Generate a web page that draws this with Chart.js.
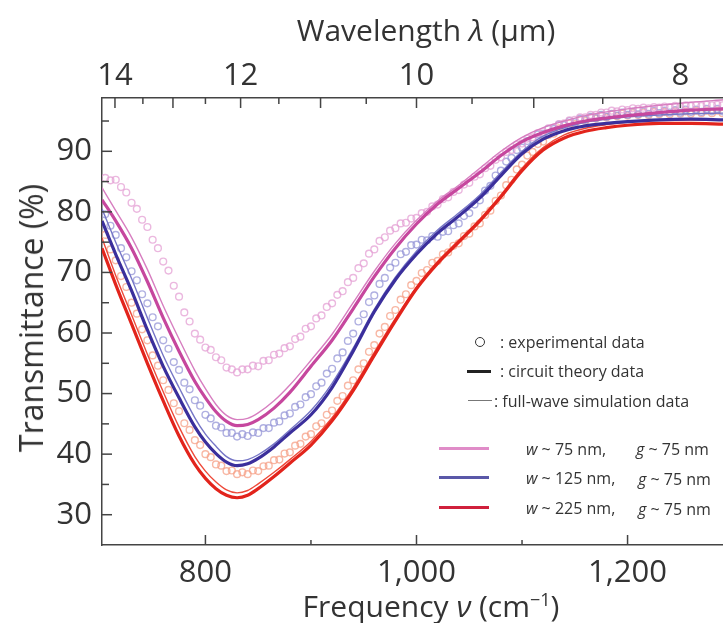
<!DOCTYPE html>
<html>
<head>
<meta charset="utf-8">
<script src="https://cdn.jsdelivr.net/npm/chart.js@4.4.1/dist/chart.umd.min.js"></script>
<style>
  html, body { margin: 0; padding: 0; background: #fff; }
  #wrap { position: relative; width: 723px; height: 623px; overflow: hidden; font-family: "Open Sans", sans-serif; color: #333; }
  #c { position: absolute; left: 0; top: 0; }
  .t { position: absolute; white-space: nowrap; line-height: 1; }
  .ttl { font-size: 30px; transform: translate(-50%, -50%); }
  .lg { font-size: 16px; transform: translateY(-50%); }
  .mk { position: absolute; }
  i { font-style: italic; }
</style>
</head>
<body>
<div id="wrap">
  <canvas id="c" width="729" height="623"></canvas>

  <div class="t ttl" style="left:426px; top:30px;">Wavelength <i>λ</i> (μm)</div>
  <div class="t ttl" style="left:431px; top:605px;">Frequency <i>ν</i> (cm<sup style="font-size:18px;">−1</sup>)</div>
  <div class="t ttl" style="left:31px; top:318px; font-size:32px; transform: translate(-50%, -50%) rotate(-90deg);">Transmittance (%)</div>

  <!-- legend -->
  <div class="mk" style="left:475px; top:337px; width:8px; height:8px; border:1.4px solid #333; border-radius:50%;"></div>
  <div class="t lg" style="left:500px; top:342px;">: experimental data</div>
  <div class="mk" style="left:467px; top:370px; width:24px; height:3px; background:#222;"></div>
  <div class="t lg" style="left:500px; top:371px;">: circuit theory data</div>
  <div class="mk" style="left:468px; top:400px; width:24px; height:1px; background:#777;"></div>
  <div class="t lg" style="left:494px; top:401px;">: full-wave simulation data</div>

  <div class="mk" style="left:439px; top:447px; width:50px; height:3px; background:#e08cc8;"></div>
  <div class="t lg" style="left:526px; top:449px;"><i>w</i> ~ 75 nm,</div>
  <div class="t lg" style="left:636px; top:449px;"><i>g</i> ~ 75 nm</div>
  <div class="mk" style="left:439px; top:476px; width:50px; height:3px; background:#5a58a8;"></div>
  <div class="t lg" style="left:526px; top:478px;"><i>w</i> ~ 125 nm,</div>
  <div class="t lg" style="left:638px; top:479px;"><i>g</i> ~ 75 nm</div>
  <div class="mk" style="left:439px; top:506px; width:50px; height:3px; background:#d0203c;"></div>
  <div class="t lg" style="left:526px; top:508px;"><i>w</i> ~ 225 nm,</div>
  <div class="t lg" style="left:638px; top:509px;"><i>g</i> ~ 75 nm</div>
</div>

<script>
// axis ticks
const freqTicks = [800, 1000, 1200];
const freqMinor = [900, 1100];
const wlTicks = [14, 12, 10, 8];
const wlMid = [13, 11, 9];
const wlMinor = [13.5, 12.5, 11.5, 10.5, 9.5, 8.5];
const tTicks = [30, 40, 50, 60, 70, 80, 90];
const tMinor = [35, 45, 55, 65, 75, 85, 95];

// experimental data (frequency in cm-1, transmittance in %)
const expFreq = [
  705, 710, 715, 720, 725, 730, 735, 740, 745, 750, 755, 760, 765, 770, 775, 780, 785, 790, 795,
  800, 805, 810, 815, 820, 825, 830, 835, 840, 845, 850, 855, 860, 865, 870, 875, 880, 885, 890, 895,
  900, 905, 910, 915, 920, 925, 930, 935, 940, 945, 950, 955, 960, 965, 970, 975, 980, 985, 990, 995,
  1000, 1005, 1010, 1015, 1020, 1025, 1030, 1035, 1040, 1045, 1050, 1055, 1060, 1065, 1070, 1075, 1080, 1085, 1090, 1095,
  1100, 1105, 1110, 1115, 1120, 1125, 1130, 1135, 1140, 1145, 1150, 1155, 1160, 1165, 1170, 1175, 1180, 1185, 1190, 1195,
  1200, 1205, 1210, 1215, 1220, 1225, 1230, 1235, 1240, 1245, 1250, 1255, 1260, 1265, 1270, 1275, 1280, 1285, 1290
];
const pinkExp = [
  85.6, 85.2, 85.3, 84.1, 83.2, 81.5, 80.5, 78.7, 77.5, 75.4, 74.0, 71.8, 70.3, 67.8, 66.0, 63.4, 61.9, 59.9, 58.9,
  57.6, 57.2, 56.0, 55.5, 54.3, 54.0, 53.5, 54.0, 54.0, 54.6, 54.5, 55.4, 55.5, 56.4, 56.6, 57.5, 57.8, 59.0, 59.4, 60.7,
  61.1, 62.4, 62.9, 64.3, 64.9, 66.3, 66.9, 68.4, 69.1, 70.7, 71.5, 73.1, 73.8, 75.2, 75.8, 76.9, 77.3, 78.1, 78.2, 78.9,
  79.0, 79.8, 80.0, 80.9, 81.2, 82.1, 82.4, 83.3, 83.6, 84.5, 84.8, 85.8, 86.2, 87.2, 87.6, 88.6, 89.0, 89.9, 90.2, 91.1,
  91.3, 92.1, 92.3, 93.0, 93.2, 93.8, 93.9, 94.5, 94.6, 95.1, 95.2, 95.6, 95.6, 96.0, 96.0, 96.4, 96.4, 96.7, 96.6, 96.9,
  96.8, 97.1, 97.0, 97.2, 97.1, 97.3, 97.2, 97.4, 97.3, 97.5, 97.4, 97.6, 97.5, 97.6, 97.5, 97.7, 97.6, 97.7, 97.6
];
const blueExp = [
  79.6, 77.7, 76.2, 74.0, 72.5, 70.2, 68.7, 66.4, 64.9, 62.6, 61.1, 58.8, 57.4, 55.2, 53.9, 51.8, 50.7, 48.9, 48.0,
  46.5, 45.9, 44.7, 44.4, 43.5, 43.5, 42.9, 43.3, 43.0, 43.6, 43.5, 44.3, 44.3, 45.2, 45.4, 46.4, 46.7, 47.8, 48.2, 49.4,
  49.9, 51.2, 51.8, 53.3, 54.1, 55.8, 56.8, 58.7, 59.9, 61.9, 63.1, 65.1, 66.2, 68.1, 69.1, 70.8, 71.6, 73.0, 73.4, 74.5,
  74.6, 75.4, 75.3, 76.0, 75.9, 76.7, 76.8, 77.8, 78.1, 79.3, 79.8, 81.2, 81.9, 83.5, 84.3, 86.0, 86.8, 88.3, 88.9, 90.2,
  90.6, 91.7, 91.9, 92.8, 92.9, 93.7, 93.7, 94.4, 94.3, 95.0, 94.8, 95.4, 95.2, 95.7, 95.5, 96.0, 95.7, 96.2, 95.9, 96.4,
  96.0, 96.5, 96.1, 96.6, 96.2, 96.7, 96.3, 96.7, 96.4, 96.8, 96.4, 96.9, 96.5, 96.9, 96.5, 97.0, 96.6, 97.0, 96.6
];
const redExp = [
  76.2, 73.8, 72.0, 69.4, 67.6, 65.0, 63.2, 60.6, 58.8, 56.3, 54.6, 52.2, 50.6, 48.4, 47.1, 45.1, 44.0, 42.3, 41.5,
  40.0, 39.5, 38.3, 38.1, 37.2, 37.3, 36.7, 37.0, 36.7, 37.3, 37.2, 38.0, 38.1, 39.0, 39.1, 40.1, 40.3, 41.4, 41.7, 42.9,
  43.3, 44.6, 45.1, 46.5, 47.2, 48.8, 49.6, 51.3, 52.2, 54.0, 55.0, 56.9, 58.0, 59.9, 61.0, 62.8, 63.8, 65.5, 66.4, 67.9,
  68.6, 69.9, 70.4, 71.6, 71.9, 73.0, 73.3, 74.4, 74.8, 76.0, 76.4, 77.6, 78.1, 79.5, 80.2, 81.8, 82.7, 84.4, 85.3, 87.0,
  87.8, 89.3, 89.9, 91.2, 91.6, 92.7, 92.9, 93.8, 93.8, 94.6, 94.5, 95.2, 95.0, 95.6, 95.4, 95.9, 95.6, 96.1, 95.8, 96.2,
  95.9, 96.3, 96.0, 96.4, 96.0, 96.5, 96.1, 96.5, 96.1, 96.6, 96.2, 96.6, 96.2, 96.7, 96.3, 96.7, 96.3, 96.7, 96.3
];

// circuit theory and full-wave simulation curves
const modelFreq = [702, 715, 730, 745, 760, 775, 790, 800, 810, 820, 830, 840, 850, 865, 880, 900, 920, 940, 960, 980,
  1000, 1020, 1040, 1060, 1080, 1100, 1120, 1140, 1160, 1180, 1200, 1230, 1260, 1291];
const pinkCircuit = [82, 78.5, 74, 68.5, 62.5, 57, 52, 49.3, 47, 45.4, 44.7, 44.9, 45.7, 47.6, 50.2, 54.5, 58.8, 64, 69.3, 74,
  78, 81.3, 83.9, 86.5, 89.3, 91.6, 93.1, 94.2, 95, 95.5, 95.9, 96.4, 96.8, 97];
const pinkSim = [84, 80.2, 75.8, 70.5, 64.5, 59, 53.8, 50.8, 48.2, 46.4, 45.7, 45.9, 46.8, 48.8, 51.4, 55.5, 59.8, 65, 70.2, 74.8,
  78.6, 81.8, 84.4, 87.2, 90, 92.3, 93.9, 95, 95.9, 96.5, 97, 97.6, 98.1, 98.5];
const blueCircuit = [78.5, 73, 67, 60.5, 54.5, 49.3, 44.5, 42, 40.1, 38.7, 38.1, 38.4, 39.3, 41.2, 43.5, 46.5, 51, 57, 63.5, 68.8,
  73, 76.5, 79.3, 82.3, 86, 89.6, 92, 93.4, 94.2, 94.6, 94.9, 95.2, 95.3, 95.2];
const blueSim = [80.5, 75, 69, 62.5, 56.3, 51, 46, 43.3, 41.3, 39.6, 38.9, 39.1, 39.9, 41.7, 44, 47.2, 51.7, 57.5, 63.9, 69.2,
  73.5, 77, 79.8, 82.8, 86.5, 90, 92.5, 93.9, 94.8, 95.3, 95.7, 96, 96.2, 96.3];
const redCircuit = [74, 68, 61.5, 55, 48.8, 43, 38.3, 36, 34.3, 33.2, 32.8, 33.2, 34.3, 36.3, 38.5, 41.5, 45.5, 50.5, 56.3, 62,
  67.3, 71.5, 75, 78.5, 82.5, 86.8, 90.2, 92.2, 93.3, 93.9, 94.3, 94.6, 94.6, 94.5];
const redSim = [75.7, 69.5, 63, 56.5, 50.3, 44.5, 39.6, 37.2, 35.4, 34.1, 33.6, 34, 35.1, 37, 39.1, 42.1, 46, 51, 56.8, 62.4,
  67.6, 71.8, 75.3, 78.8, 82.8, 87.2, 90.6, 92.7, 93.8, 94.4, 94.8, 95.1, 95.2, 95.2];

const pts = (xs, ys) => xs.map((x, i) => ({ x: x, y: ys[i] }));

function expSet(ys, color) {
  return {
    data: pts(expFreq, ys), showLine: false, order: 3,
    pointStyle: 'circle', pointRadius: 3.4, pointBorderWidth: 1.4,
    pointBorderColor: color, pointBackgroundColor: 'rgba(255,255,255,0)'
  };
}
function lineSet(ys, color, width, order) {
  return {
    data: pts(modelFreq, ys), showLine: true, order: order,
    borderColor: color, borderWidth: width, pointRadius: 0,
    cubicInterpolationMode: 'monotone'
  };
}

// inward tick marks on the three drawn axes
const innerTicks = {
  id: 'innerTicks',
  afterDraw(chart) {
    const ctx = chart.ctx, a = chart.chartArea;
    const x = chart.scales.x, x2 = chart.scales.x2, y = chart.scales.y;
    ctx.save();
    ctx.strokeStyle = '#444';
    ctx.lineWidth = 1.5;
    const v = (px, y0, len) => { ctx.beginPath(); ctx.moveTo(px, y0); ctx.lineTo(px, y0 + len); ctx.stroke(); };
    const h = (py, len) => { ctx.beginPath(); ctx.moveTo(a.left, py); ctx.lineTo(a.left + len, py); ctx.stroke(); };
    freqTicks.forEach(f => v(x.getPixelForValue(f), a.bottom, -10));
    freqMinor.forEach(f => v(x.getPixelForValue(f), a.bottom, -5));
    wlTicks.concat(wlMid).forEach(l => v(x2.getPixelForValue(10000 / l), a.top, 10));
    wlMinor.forEach(l => v(x2.getPixelForValue(10000 / l), a.top, 6));
    tTicks.forEach(t => h(y.getPixelForValue(t), 10));
    tMinor.forEach(t => h(y.getPixelForValue(t), 7));
    ctx.restore();
  }
};

const tickFont = { family: 'Open Sans', size: 31 };

new Chart(document.getElementById('c'), {
  type: 'scatter',
  data: {
    datasets: [
      expSet(pinkExp, 'rgba(228,160,212,0.75)'),
      expSet(blueExp, 'rgba(150,150,215,0.75)'),
      expSet(redExp, 'rgba(245,160,135,0.75)'),
      lineSet(pinkSim, '#d77ec0', 1.4, 2),
      lineSet(blueSim, '#7676c6', 1.4, 2),
      lineSet(redSim, '#ee4a3a', 1.4, 2),
      lineSet(pinkCircuit, '#c6479e', 3.2, 1),
      lineSet(blueCircuit, '#3b2f9c', 3.2, 1),
      lineSet(redCircuit, '#e2241c', 3.2, 1)
    ]
  },
  options: {
    responsive: false,
    animation: false,
    devicePixelRatio: 1,
    layout: { padding: 0 },
    plugins: { legend: { display: false }, tooltip: { enabled: false } },
    scales: {
      x: {
        type: 'linear', position: 'bottom', min: 702, max: 1291,
        afterBuildTicks: s => { s.ticks = freqTicks.map(f => ({ value: f })); },
        afterFit: s => { s.height = 78; },
        ticks: { font: tickFont, color: '#333', padding: 10, autoSkip: false, maxRotation: 0,
          callback: val => val.toLocaleString('en-US') },
        grid: { display: false, drawTicks: false },
        border: { display: true, color: '#444', width: 1.5 }
      },
      x2: {
        type: 'linear', position: 'top', axis: 'x', min: 702, max: 1291,
        afterBuildTicks: s => { s.ticks = wlTicks.map(l => ({ value: 10000 / l })); },
        afterFit: s => { s.height = 98; },
        ticks: { font: tickFont, color: '#333', padding: 3, autoSkip: false, maxRotation: 0,
          callback: (val, i) => String(wlTicks[i]) },
        grid: { display: false, drawTicks: false },
        border: { display: true, color: '#444', width: 1.5 }
      },
      y: {
        type: 'linear', min: 25, max: 98.8,
        afterBuildTicks: s => { s.ticks = tTicks.map(t => ({ value: t })); },
        afterFit: s => { s.width = 102; },
        ticks: { font: tickFont, color: '#333', padding: 10, autoSkip: false },
        grid: { display: false, drawTicks: false },
        border: { display: true, color: '#444', width: 1.5 }
      }
    }
  },
  plugins: [innerTicks]
});
</script>
</body>
</html>
